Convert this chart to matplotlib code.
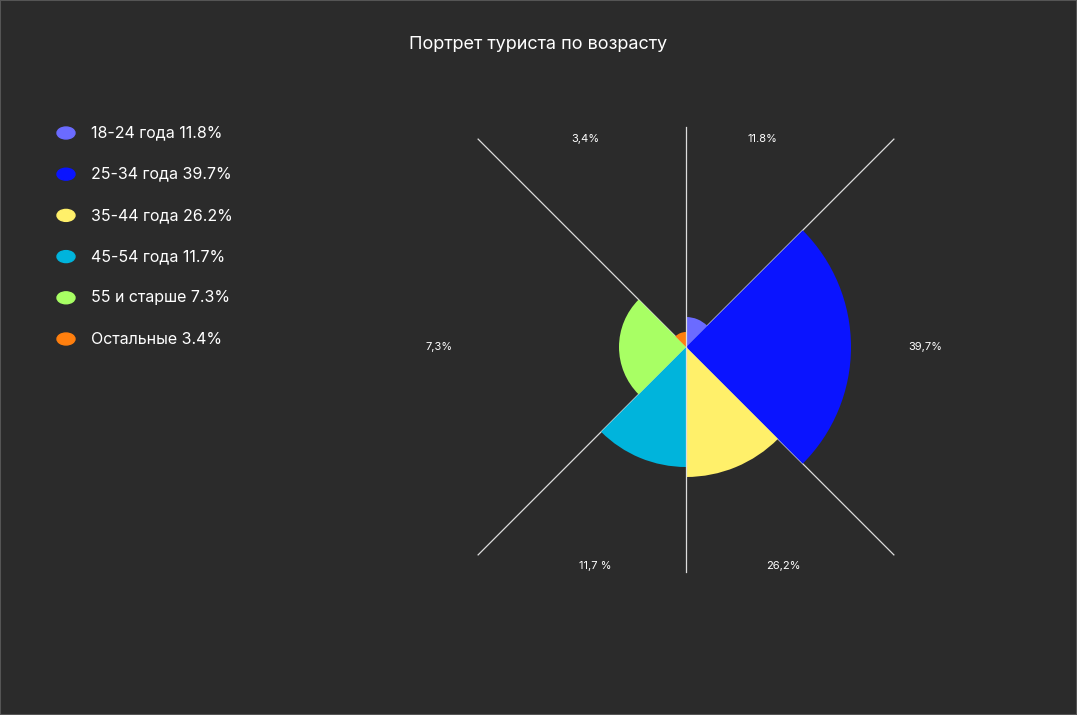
import numpy as np
import matplotlib.pyplot as plt

plt.rcParams["font.family"] = "Inter"

groups = ["18-24 года", "25-34 года", "35-44 года", "45-54 года", "55 и старше", "Остальные"]
shares = [11.8, 39.7, 26.2, 11.7, 7.3, 3.4]
sector_labels = ["11.8%", "39,7%", "26,2%", "11,7 %", "7,3%", "3,4%"]
# sector start / end angles (deg, clockwise from north) and radii (px)
starts = [0, 45, 135, 180, 225, 315]
ends = [45, 135, 180, 225, 315, 360]
radii = [30, 165, 130, 120, 67, 15]
colors = ["#6b6bff", "#0a14ff", "#fff06a", "#00b4dc", "#a8ff64", "#ff7f0e"]
label_pos = [(762, 139), (925, 347), (783, 566), (595, 566), (439, 347), (585, 139)]

W, H = 1077, 715
bg = "#2b2b2b"
fig = plt.figure(figsize=(W / 100, H / 100), dpi=100, facecolor=bg)

cx, cy, R = 686, 347, 225
ax = fig.add_axes([(cx - R) / W, (H - cy - R) / H, 2 * R / W, 2 * R / H], projection="polar")
ax.set_theta_zero_location("N")
ax.set_theta_direction(-1)
ax.set_facecolor("none")
ax.set_ylim(0, R)
ax.axis("off")

st = np.radians(starts)
wd = np.radians(np.array(ends) - np.array(starts))
ax.bar(st, radii, width=wd, align="edge", color=colors, edgecolor="none", zorder=2)

# divider lines
ax.plot([0, 0], [0, 220], color="#dddddd", lw=0.9, zorder=3, clip_on=False)
ax.plot([np.pi, np.pi], [0, 225], color="#dddddd", lw=0.9, zorder=3, clip_on=False)
for a in [45, 135, 225, 315]:
    ax.plot([np.radians(a)] * 2, [0, 294], color="#dddddd", lw=0.9, zorder=1, clip_on=False)

for txt, (x, y) in zip(sector_labels, label_pos):
    fig.text(x / W, 1 - y / H, txt, color="white", fontsize=8, ha="center", va="center")

fig.text(538 / W, 1 - 44 / H, "Портрет туриста по возрасту", color="white",
         fontsize=13, ha="center", va="center")

for i, (g, s, c) in enumerate(zip(groups, shares, colors)):
    y = 1 - (133 + i * 41.2) / H
    fig.patches.append(plt.Circle((66 / W, y), 9 / W, transform=fig.transFigure,
                                  color=c, figure=fig))
    fig.text(91 / W, y, f"{g} {s}%", color="white", fontsize=11.5, va="center")

fig.patches.append(plt.Rectangle((0, 0), 1, 1, transform=fig.transFigure, fill=False,
                                 edgecolor="#555555", lw=1.5, figure=fig))

fig.savefig("out.png", dpi=100, facecolor=bg)
